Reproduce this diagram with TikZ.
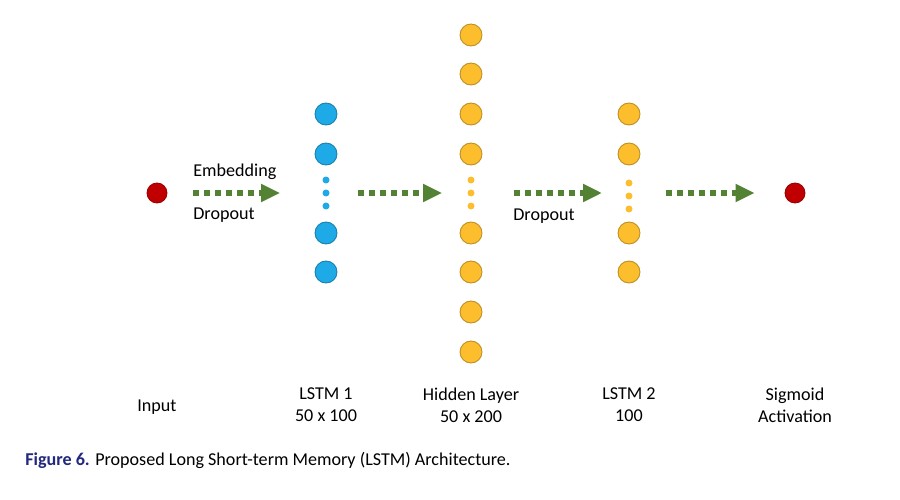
\documentclass[tikz,border=0pt]{standalone}
\usepackage{fontspec}
\setmainfont{Carlito}
\usepackage{tikz}
\usetikzlibrary{arrows.meta}

\definecolor{dotred}{RGB}{192,0,0}
\definecolor{dotblue}{RGB}{30,170,230}
\definecolor{dotorange}{RGB}{252,190,45}
\definecolor{flowgreen}{RGB}{84,130,53}
\definecolor{capblue}{RGB}{35,40,125}

\begin{document}
\begin{tikzpicture}[x=0.02cm,y=-0.02cm]

% Picture style
\tikzset{
    unit/.style={circle,fill=#1,draw=#1!75!black,line width=0.5pt,minimum size=0.44cm,inner sep=0pt},
    small/.style={circle,fill=#1,minimum size=0.14cm,inner sep=0pt},
    endpoint/.style={circle,fill=dotred,draw=dotred!80!black,line width=0.5pt,minimum size=0.4cm,inner sep=0pt},
    flow/.style={draw=flowgreen,line width=0.12cm,dash pattern=on 0.12cm off 0.1cm,
        -{Triangle[length=0.38cm,width=0.34cm,fill=flowgreen]}},
    caption/.style={font=\fontsize{10.3}{12.5}\selectfont,align=center},
    every node/.append style={font=\fontsize{10.3}{12.5}\selectfont}
}

\useasboundingbox (0,0) rectangle (900,500);

% Input and output
\node[endpoint] (INa) at (157,193){};
\node[endpoint] (OUTa) at (795,193){};

% LSTM 1
\node[unit=dotblue] (LSa1) at (326,114){};
\node[unit=dotblue] (LSa2) at (326,154){};
\node[small=dotblue] (LSad1) at (326,180){};
\node[small=dotblue] (LSad2) at (326,193){};
\node[small=dotblue] (LSad3) at (326,206){};
\node[unit=dotblue] (LSa3) at (326,233){};
\node[unit=dotblue] (LSa4) at (326,272){};

% Hidden layer
\node[unit=dotorange] (HLa1) at (471,35){};
\node[unit=dotorange] (HLa2) at (471,74){};
\node[unit=dotorange] (HLa3) at (471,114){};
\node[unit=dotorange] (HLa4) at (471,154){};
\node[small=dotorange] (HLd1) at (471,180){};
\node[small=dotorange] (HLd2) at (471,193){};
\node[small=dotorange] (HLd3) at (471,206){};
\node[unit=dotorange] (HLa5) at (471,233){};
\node[unit=dotorange] (HLa6) at (471,272){};
\node[unit=dotorange] (HLa7) at (471,312){};
\node[unit=dotorange] (HLa8) at (471,352){};

% LSTM 2
\node[unit=dotorange] (LSb1) at (629,114){};
\node[unit=dotorange] (LSb2) at (629,154){};
\node[small=dotorange] (LSbd1) at (629,183){};
\node[small=dotorange] (LSbd2) at (629,196){};
\node[small=dotorange] (LSbd3) at (629,209){};
\node[unit=dotorange] (LSb3) at (629,233){};
\node[unit=dotorange] (LSb4) at (629,272){};

% Connection
\draw[flow,shorten <=0.52cm,shorten >=0.84cm] (INa) -- (LSad2);
\draw[flow,shorten <=0.56cm,shorten >=0.5cm] (LSad2) -- (HLd2);
\draw[flow,shorten <=0.78cm,shorten >=0.54cm] (HLd2) -- (HLd2 -| LSbd2);
\draw[flow,shorten <=0.74cm,shorten >=0.6cm] (HLd2 -| LSbd2) -- (OUTa);

% Arrow labels
\node[anchor=west,inner sep=0pt] (EMB) at (193,172){Embedding};
\node[anchor=west,inner sep=0pt] (DRa) at (193,215){Dropout};
\node[anchor=west,inner sep=0pt] (DRb) at (513,216){Dropout};

% Layer names
\node[caption] (INt) at (157,407){Input};
\node[caption] (LSat) at (326,405){LSTM 1\\50 x 100};
\node[caption] (HLt) at (471,405){Hidden Layer\\50 x 200};
\node[caption] (LSbt) at (629,405){LSTM 2\\100};
\node[caption] (OUTt) at (795,405){Sigmoid\\Activation};

% Figure caption
\node[anchor=west,inner sep=0pt] (FIG) at (25,460){\textcolor{capblue}{\textbf{Figure 6.}} Proposed Long Short-term Memory (LSTM) Architecture.};

\end{tikzpicture}
\end{document}
